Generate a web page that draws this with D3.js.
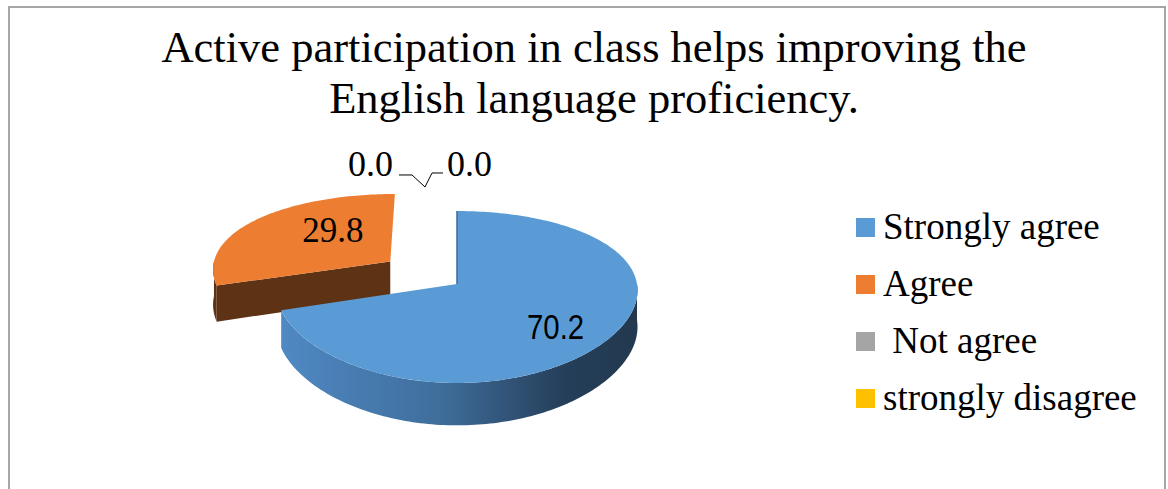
<!DOCTYPE html>
<html>
<head>
<meta charset="utf-8">
<script src="https://cdn.jsdelivr.net/npm/d3@7"></script>
<style>
  body { margin: 0; background: #fff; }
  text { white-space: pre; }
</style>
</head>
<body>
<script>
// chart data
var categories = ["Strongly agree", "Agree", " Not agree", "strongly disagree"];
var values = [70.2, 29.8, 0.0, 0.0];
var colors = ["#5b9bd5", "#ed7d31", "#a5a5a5", "#ffc000"];
var labelText = ["70.2", "29.8", "0.0", "0.0"];
var titleLines = ["Active participation in class helps improving the", "English language proficiency."];

var width = 1168, height = 489;

var svg = d3.select("body").append("svg")
  .attr("width", width)
  .attr("height", height);

// chart frame
svg.append("rect")
  .attr("x", 9).attr("y", 7)
  .attr("width", 1156).attr("height", 520)
  .attr("fill", "none")
  .attr("stroke", "#a6a6a6")
  .attr("stroke-width", 2);

// title
svg.append("text")
  .attr("text-anchor", "middle")
  .style("font-family", "'Times New Roman', 'Liberation Serif', serif")
  .style("font-size", "44.5px")
  .selectAll("tspan")
  .data(titleLines)
  .enter()
  .append("tspan")
  .attr("x", 594)
  .attr("y", function(d, i) { return 62 + i * 51; })
  .text(function(d) { return d; });

// 3d pie setup
var cx = 457, cy = 284;
var radiusX = 180, radiusY = 84, depth = 36;
var camDist = 5.8, cosTilt = 0.877;
var explodeBy = [0, 0.47, 0.47, 0.47];

var xScale = d3.scaleLinear().domain([-1, 1]).range([cx - radiusX, cx + radiusX]);

var pie = d3.pie().sort(null).value(function(d) { return d; });
var arcs = pie(values);

// project a point of the tilted disc (theta clockwise from 12 o'clock)
function proj(theta, r, e, mid, h) {
  var X = r * Math.sin(theta) + e * Math.sin(mid);
  var Z = r * Math.cos(theta) + e * Math.cos(mid);
  var f = camDist / (camDist + Z * cosTilt);
  var fx = camDist / (camDist + Z * cosTilt * 0.5);
  return [xScale(X * fx), cy - radiusY * Z * f + h * depth * f];
}

function arcPts(a0, a1, e, mid, h) {
  var pts = [];
  var n = Math.max(2, Math.ceil((a1 - a0) / 0.02));
  for (var k = 0; k <= n; k++) {
    var t = a0 + (a1 - a0) * k / n;
    pts.push(proj(t, 1, e, mid, h));
  }
  return pts;
}

var line = d3.line();

var defs = svg.append("defs");
var grad = defs.append("linearGradient")
  .attr("id", "blueWall")
  .attr("gradientUnits", "userSpaceOnUse")
  .attr("x1", xScale(-1)).attr("x2", xScale(1))
  .attr("y1", 0).attr("y2", 0);
grad.append("stop").attr("offset", "0").attr("stop-color", "#5089c4");
grad.append("stop").attr("offset", "0.45").attr("stop-color", "#3f6e9c");
grad.append("stop").attr("offset", "0.8").attr("stop-color", "#253e59");
grad.append("stop").attr("offset", "1").attr("stop-color", "#22394f");

var wallFill = ["url(#blueWall)", "#5e3214", "#6b6b6b", "#8a6a00"];

// draw back slices first (exploded ones), then the front slice
var order = d3.range(arcs.length).filter(function(i) { return values[i] > 0; })
  .sort(function(a, b) { return explodeBy[b] - explodeBy[a]; });

var pieG = svg.append("g").attr("class", "pie");

order.forEach(function(i) {
  var d = arcs[i];
  var a0 = d.startAngle, a1 = d.endAngle;
  var mid = (a0 + a1) / 2, e = explodeBy[i];
  var g = pieG.append("g");
  var c0 = proj(0, 0, e, mid, 0), c1 = proj(0, 0, e, mid, 1);

  // radial face at start angle, if it faces the viewer
  if (Math.cos(a0 - Math.PI / 2) < 0) {
    var r0 = proj(a0, 1, e, mid, 0), r1 = proj(a0, 1, e, mid, 1);
    g.append("path")
      .attr("d", line([c0, r0, r1, c1]) + "Z")
      .attr("fill", wallFill[i]);
  }

  // outer wall, front half only
  var w0 = Math.max(a0, Math.PI / 2), w1 = Math.min(a1, 3 * Math.PI / 2);
  if (w1 > w0) {
    var top = arcPts(w0, w1, e, mid, 0);
    var bot = arcPts(w0, w1, e, mid, 1).reverse();
    g.append("path")
      .attr("d", line(top.concat(bot)) + "Z")
      .attr("fill", wallFill[i]);
  }

  // top face
  var face = [c0].concat(arcPts(a0, a1, e, mid, 0));
  g.append("path")
    .attr("d", line(face) + "Z")
    .attr("fill", colors[i]);

  // thin edge at the 12 o'clock cut
  if (a0 === 0) {
    g.append("path")
      .attr("d", line([c0, proj(0, 1, e, mid, 0)]))
      .attr("stroke", "#3d6b98")
      .attr("stroke-width", 1.5);
  }
});

// data labels
var labelR = [0.66, 0.42];
var labelNudge = [[0, 8], [0, -13]];
[0, 1].forEach(function(i) {
  var d = arcs[i];
  var mid = (d.startAngle + d.endAngle) / 2;
  var p = proj(mid, labelR[i], explodeBy[i], mid, 0);
  var t = svg.append("text")
    .attr("text-anchor", "middle")
    .attr("dy", "0.35em")
    .text(labelText[i]);
  if (i === 0) {
    t.attr("transform", "translate(" + (p[0] + labelNudge[i][0]) + "," + (p[1] + labelNudge[i][1]) + ") scale(0.84,1)")
      .style("font-family", "Arial, 'Liberation Sans', sans-serif")
      .style("font-size", "35px");
  } else {
    t.attr("x", p[0] + labelNudge[i][0]).attr("y", p[1] + labelNudge[i][1])
      .style("font-family", "'Times New Roman', 'Liberation Serif', serif")
      .style("font-size", "35px");
  }
});

// zero slices: labels with leader lines
var zero = arcs[2];
var zp = proj(zero.startAngle, 1, explodeBy[2], zero.startAngle, 0);
var anchor = [zp[0] - 32, zp[1] + 4];

var leaders = [
  [[anchor[0] - 26, anchor[1] - 12], [anchor[0] - 13, anchor[1] - 12], anchor],
  [[anchor[0] + 18, anchor[1] - 14], [anchor[0] + 7, anchor[1] - 14], anchor]
];
svg.append("g").selectAll("path")
  .data(leaders)
  .enter()
  .append("path")
  .attr("d", function(d) { return line(d); })
  .attr("fill", "none")
  .attr("stroke", "#000")
  .attr("stroke-width", 1);

svg.append("g").selectAll("text")
  .data([2, 3])
  .enter()
  .append("text")
  .attr("x", function(d, k) { return k === 0 ? anchor[0] - 32 : anchor[0] + 22; })
  .attr("y", anchor[1] - 11)
  .attr("text-anchor", function(d, k) { return k === 0 ? "end" : "start"; })
  .style("font-family", "'Times New Roman', 'Liberation Serif', serif")
  .style("font-size", "36px")
  .text(function(d) { return labelText[d]; });

// legend
var rowScale = d3.scalePoint().domain(categories).range([218, 389]);
var legend = svg.append("g").attr("class", "legend")
  .selectAll("g")
  .data(categories)
  .enter()
  .append("g")
  .attr("transform", function(d) { return "translate(856," + rowScale(d) + ")"; });

legend.append("rect")
  .attr("width", 19).attr("height", 19)
  .attr("fill", function(d, i) { return colors[i]; });

legend.append("text")
  .attr("x", 27).attr("y", 21)
  .style("font-family", "'Times New Roman', 'Liberation Serif', serif")
  .style("font-size", "37px")
  .text(function(d) { return d; });
</script>
</body>
</html>
